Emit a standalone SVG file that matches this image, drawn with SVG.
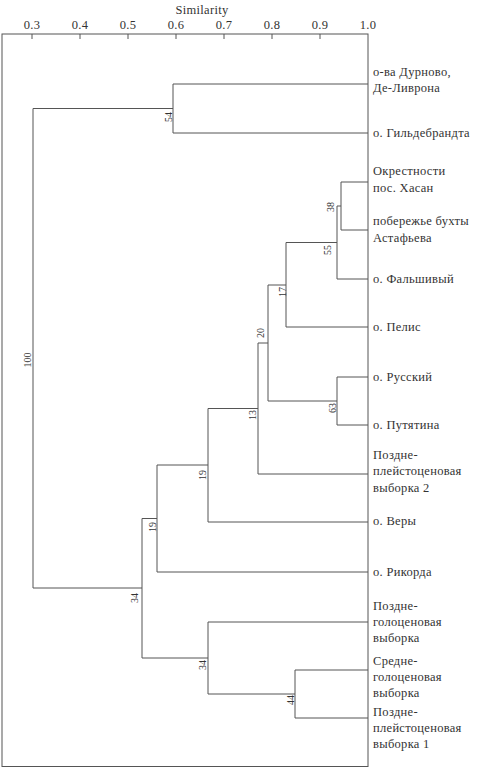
<svg xmlns="http://www.w3.org/2000/svg" width="479" height="768" viewBox="0 0 479 768">
<style>
  .ln { stroke: #555; stroke-width: 1; fill: none; }
  .lbl { font-family: "Liberation Serif", "Times New Roman", serif; font-size: 12.5px; letter-spacing: 0.3px; fill: #333; }
  .ax { font-family: "Liberation Serif", "Times New Roman", serif; font-size: 12.5px; letter-spacing: 0.3px; fill: #333; text-anchor: middle; }
  .bs { font-family: "Liberation Serif", "Times New Roman", serif; font-size: 10px; fill: #333; text-anchor: middle; }
</style>
<rect width="479" height="768" fill="#fff"/>
<g id="axis">
  <rect class="ln" x="2" y="34" width="366" height="732.5"/>
  <text class="ax" x="202" y="13.5">Similarity</text>
  <path class="ln" d="M32 34V39M80 34V39M128 34V39M176 34V39M224 34V39M272 34V39M320 34V39"/>
  <text class="ax" x="32" y="29">0.3</text>
  <text class="ax" x="80" y="29">0.4</text>
  <text class="ax" x="128" y="29">0.5</text>
  <text class="ax" x="176" y="29">0.6</text>
  <text class="ax" x="224" y="29">0.7</text>
  <text class="ax" x="272" y="29">0.8</text>
  <text class="ax" x="320" y="29">0.9</text>
  <text class="ax" x="368" y="29">1.0</text>
</g>
<g id="connectors">
  <path class="ln" d="M173 84H368M173 133H368M341 182H368M341 230H368M337 279H368M286 327H368M337 377H368M337 425H368M258 474H368M208 522H368M157 572H368M208 622H368M295 670H368M295 718H368"/>
  <path class="ln" d="M173 84V133M341 182V230M337 206V279M286 242.5V327M337 377V425M268 285V401M258 343V474M208 408.5V522M157 465V572M295 670V718M208 622V694M142 518.5V658M33 108.5V588"/>
  <path class="ln" d="M33 108.5H173M337 206H341M286 242.5H337M268 285H286M268 401H337M258 343H268M208 408.5H258M157 465H208M142 518.5H157M208 694H295M142 658H208M33 588H142"/>
</g>
<g id="leaf-durnovo"><text class="lbl" x="373" y="76">о-ва Дурново,</text><text class="lbl" x="373" y="92">Де-Ливрона</text></g>
<g id="leaf-gildebrandta"><text class="lbl" x="373" y="137">о. Гильдебрандта</text></g>
<g id="leaf-khasan"><text class="lbl" x="373" y="175">Окрестности</text><text class="lbl" x="373" y="192">пос. Хасан</text></g>
<g id="leaf-astafieva"><text class="lbl" x="373" y="225">побережье бухты</text><text class="lbl" x="373" y="242">Астафьева</text></g>
<g id="leaf-falshivy"><text class="lbl" x="373" y="283">о. Фальшивый</text></g>
<g id="leaf-pelis"><text class="lbl" x="373" y="331">о. Пелис</text></g>
<g id="leaf-russky"><text class="lbl" x="373" y="381">о. Русский</text></g>
<g id="leaf-putyatina"><text class="lbl" x="373" y="429">о. Путятина</text></g>
<g id="leaf-lp2"><text class="lbl" x="373" y="459">Поздне-</text><text class="lbl" x="373" y="475">плейстоценовая</text><text class="lbl" x="373" y="492">выборка 2</text></g>
<g id="leaf-very"><text class="lbl" x="373" y="525">о. Веры</text></g>
<g id="leaf-rikorda"><text class="lbl" x="373" y="576">о. Рикорда</text></g>
<g id="leaf-lh"><text class="lbl" x="373" y="610">Поздне-</text><text class="lbl" x="373" y="626">голоценовая</text><text class="lbl" x="373" y="642">выборка</text></g>
<g id="leaf-mh"><text class="lbl" x="373" y="665">Средне-</text><text class="lbl" x="373" y="681">голоценовая</text><text class="lbl" x="373" y="697">выборка</text></g>
<g id="leaf-lp1"><text class="lbl" x="373" y="716">Поздне-</text><text class="lbl" x="373" y="732">плейстоценовая</text><text class="lbl" x="373" y="748">выборка 1</text></g>
<g id="bootstrap">
  <text class="bs" transform="translate(171.5 117) rotate(-90)">54</text>
  <text class="bs" transform="translate(333.5 207) rotate(-90)">38</text>
  <text class="bs" transform="translate(330.5 250) rotate(-90)">55</text>
  <text class="bs" transform="translate(285.5 292) rotate(-90)">17</text>
  <text class="bs" transform="translate(263.5 333) rotate(-90)">20</text>
  <text class="bs" transform="translate(335.5 408) rotate(-90)">63</text>
  <text class="bs" transform="translate(255.5 415) rotate(-90)">13</text>
  <text class="bs" transform="translate(205.5 475) rotate(-90)">19</text>
  <text class="bs" transform="translate(155.5 527) rotate(-90)">19</text>
  <text class="bs" transform="translate(137.5 598) rotate(-90)">34</text>
  <text class="bs" transform="translate(205.5 665) rotate(-90)">34</text>
  <text class="bs" transform="translate(293.5 700) rotate(-90)">44</text>
  <text class="bs" transform="translate(30.5 360) rotate(-90)">100</text>
</g>
</svg>
